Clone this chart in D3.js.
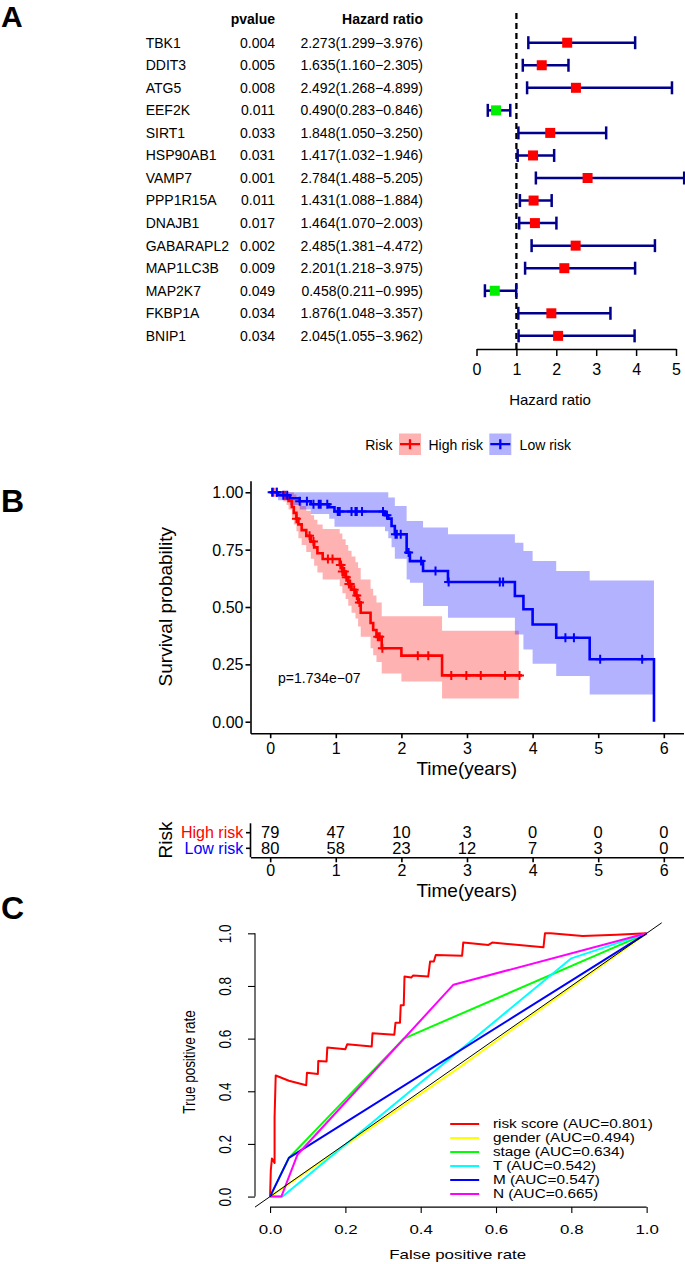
<!DOCTYPE html>
<html><head><meta charset="utf-8">
<script src="https://cdn.jsdelivr.net/npm/d3@7"></script>
<style>
body{margin:0;background:#fff}
svg{display:block}
text{font-family:"Liberation Sans",Arial,Helvetica,sans-serif;fill:#000}
</style>
</head><body>
<svg id="c" width="685" height="1264"></svg>
<script>
// ---------------- DATA ----------------
// Panel A: forest plot
const genes = ["TBK1","DDIT3","ATG5","EEF2K","SIRT1","HSP90AB1","VAMP7","PPP1R15A","DNAJB1","GABARAPL2","MAP1LC3B","MAP2K7","FKBP1A","BNIP1"];
const pvalues = ["0.004","0.005","0.008","0.011","0.033","0.031","0.001","0.011","0.017","0.002","0.009","0.049","0.034","0.034"];
const hr = [2.273,1.635,2.492,0.490,1.848,1.417,2.784,1.431,1.464,2.485,2.201,0.458,1.876,2.045];
const hrLow = [1.299,1.160,1.268,0.283,1.050,1.032,1.488,1.088,1.070,1.381,1.218,0.211,1.048,1.055];
const hrHigh = [3.976,2.305,4.899,0.846,3.250,1.946,5.205,1.884,2.003,4.472,3.975,0.995,3.357,3.962];
const hrTicks = [0,1,2,3,4,5];

// Panel B: Kaplan-Meier
const highTime  = [0,0.2,0.25,0.28,0.33,0.36,0.40,0.43,0.48,0.55,0.62,0.67,0.72,0.80,1.06,1.10,1.15,1.19,1.24,1.30,1.34,1.38,1.53,1.57,1.62,1.70,2.0,2.62];
const highSurv  = [1.0,0.987,0.975,0.962,0.936,0.91,0.885,0.86,0.835,0.81,0.785,0.76,0.734,0.709,0.683,0.655,0.63,0.60,0.575,0.55,0.52,0.475,0.43,0.40,0.37,0.32,0.288,0.202];
const highUpper = [1,1,1,1,1,0.99,0.975,0.96,0.94,0.92,0.90,0.88,0.86,0.84,0.82,0.795,0.77,0.745,0.72,0.695,0.67,0.62,0.58,0.55,0.52,0.46,0.46,0.397];
const highLower = [1,0.96,0.945,0.925,0.89,0.86,0.83,0.80,0.77,0.74,0.71,0.68,0.65,0.62,0.59,0.56,0.535,0.505,0.475,0.45,0.415,0.37,0.32,0.29,0.26,0.21,0.175,0.101];
const highEnd = 3.84, highBandEnd = 3.79;
const highCensor = [0.05,0.1,0.23,0.4,0.6,0.66,0.88,0.95,1.07,1.08,1.1,1.13,1.16,1.2,1.22,1.28,1.32,1.36,1.64,1.67,1.71,2.25,2.41,2.76,2.99,3.21,3.58,3.8];

const lowTime  = [0,0.12,0.30,0.45,0.62,0.90,0.98,1.75,1.80,1.85,1.90,2.08,2.13,2.33,2.71,3.73,3.86,4.0,4.36,4.87,5.85];
const lowSurv  = [1.0,0.987,0.974,0.961,0.948,0.935,0.916,0.90,0.885,0.853,0.817,0.737,0.70,0.657,0.609,0.548,0.49,0.424,0.366,0.272,0.0];
const lowUpper = [1,1,1,1,1,1,1,1,0.977,0.977,0.94,0.875,0.875,0.846,0.817,0.78,0.744,0.70,0.657,0.616];
const lowLower = [1,0.965,0.945,0.925,0.905,0.885,0.85,0.83,0.80,0.76,0.71,0.62,0.606,0.504,0.453,0.38,0.315,0.253,0.199,0.119];
const lowBandEnd = 5.85;
const lowCensor = [0.03,0.1,0.2,0.26,0.45,0.56,0.66,0.74,0.77,0.87,1.03,1.06,1.24,1.3,1.32,1.4,1.72,1.78,1.91,1.93,1.99,2.11,2.3,2.52,2.72,3.5,3.55,4.5,4.63,5.03,5.67];

const timeTicks = [0,1,2,3,4,5,6];
const survTicks = [0,0.25,0.5,0.75,1];
const pText = "p=1.734e\u221207";
const riskGroups = ["High risk","Low risk"];
const highAtRisk = [79,47,10,3,0,0,0];
const lowAtRisk  = [80,58,23,12,7,3,0];

// Panel C: ROC
const rocNames = ["risk score","gender","stage","T","M","N"];
const rocAuc = [0.801,0.494,0.634,0.542,0.547,0.665];
const rocRiskFpr = [0,0.002,0.005,0.012,0.012,0.015,0.05,0.096,0.098,0.127,0.128,0.15,0.152,0.20,0.205,0.27,0.272,0.33,0.333,0.345,0.347,0.355,0.357,0.375,0.38,0.42,0.425,0.435,0.44,0.51,0.513,0.58,0.59,0.726,0.73,0.745,0.83,0.92,1];
const rocRiskTpr = [0,0.10,0.145,0.128,0.30,0.46,0.44,0.423,0.47,0.466,0.515,0.513,0.566,0.56,0.579,0.57,0.62,0.615,0.66,0.66,0.727,0.727,0.836,0.832,0.84,0.836,0.893,0.893,0.918,0.915,0.965,0.956,0.965,0.947,1.0,1.0,0.99,0.995,1];
const rocGenderFpr = [0,0.5,1], rocGenderTpr = [0,0.488,1];
const rocStageFpr = [0,0.05,0.355,1], rocStageTpr = [0,0.147,0.6,1];
const rocTFpr = [0,0.033,0.80,1], rocTTpr = [0,0,0.905,1];
const rocMFpr = [0,0.05,1], rocMTpr = [0,0.147,1];
const rocNFpr = [0,0.03,0.073,0.487,1], rocNTpr = [0,0,0.16,0.805,1];
const rocTicks = [0,0.2,0.4,0.6,0.8,1];

// ---------------- DRAW ----------------
const svg = d3.select("#c");
const navy = "#00008B";

// panel letters
[["A",27,30],["B",512,32],["C",919,32]].forEach(([l,y,s]) =>
  svg.append("text").attr("x",1).attr("y",y).attr("font-size",s).attr("font-weight","bold").text(l));

// ======== Panel A ========
const rowY = d3.scalePoint().domain(genes).range([42.7, 42.7 + 13*22.55]);
const gA = svg.append("g").attr("font-size",14);
gA.append("text").attr("x",275).attr("y",19.3).attr("dy","0.35em").attr("text-anchor","end").attr("font-weight","bold").text("pvalue");
gA.append("text").attr("x",423).attr("y",19.3).attr("dy","0.35em").attr("text-anchor","end").attr("font-weight","bold").text("Hazard ratio");
genes.forEach((g,i) => {
  const y = rowY(g);
  gA.append("text").attr("x",145.7).attr("y",y).attr("dy","0.35em").text(g);
  gA.append("text").attr("x",275).attr("y",y).attr("dy","0.35em").attr("text-anchor","end").text(pvalues[i]);
  gA.append("text").attr("x",423).attr("y",y).attr("dy","0.35em").attr("text-anchor","end")
    .text(`${hr[i].toFixed(3)}(${hrLow[i].toFixed(3)}\u2212${hrHigh[i].toFixed(3)})`);
});

const xF = d3.scaleLinear([0,5],[476.5,676]);
const axF = svg.append("g").attr("transform","translate(0,349)")
  .call(d3.axisBottom(xF).tickValues(hrTicks).tickFormat(d3.format("d")).tickSize(7).tickSizeOuter(0));
axF.selectAll("path,line").attr("stroke","#000").attr("stroke-width",1.5);
axF.selectAll("text").attr("font-size",16).attr("font-family",null).attr("y",20).attr("dy","0.35em");
svg.append("text").attr("x",550).attr("y",400).attr("dy","0.35em").attr("text-anchor","middle").attr("font-size",15).text("Hazard ratio");

svg.append("line").attr("x1",xF(1)).attr("x2",xF(1)).attr("y1",13).attr("y2",349)
  .attr("stroke","#000").attr("stroke-width",2.3).attr("stroke-dasharray","6,4");

const gF = svg.append("g");
genes.forEach((g,i) => {
  const y = rowY(g);
  gF.append("line").attr("x1",xF(hrLow[i])).attr("x2",xF(hrHigh[i])).attr("y1",y).attr("y2",y)
    .attr("stroke",navy).attr("stroke-width",2.5);
  [hrLow[i],hrHigh[i]].forEach(v => gF.append("line").attr("x1",xF(v)).attr("x2",xF(v)).attr("y1",y-6.5).attr("y2",y+6.5)
    .attr("stroke",navy).attr("stroke-width",2.5));
  gF.append("rect").attr("x",xF(hr[i])-5).attr("y",y-5).attr("width",10).attr("height",10)
    .attr("fill", hr[i] > 1 ? "#FF0000" : "#00EE00");
});

// ======== Panel B ========
const xB = d3.scaleLinear([-0.3,6.3],[250.5,683.5]);
const yB = d3.scaleLinear([-0.05,1.05],[733.2,480.8]);
const red = "#FF0000", blue = "#0000FF";

function survAt(times, surv, t){ let v = surv[0]; for(let i=0;i<times.length;i++) if(times[i] <= t) v = surv[i]; return v; }

function drawKM(times, surv, up, lo, end, bandEnd, cens, col, fill){
  const bandPts = times.slice(0, up.length).map((t,i)=>[t, up[i], lo[i]]);
  bandPts.push([bandEnd, up[up.length-1], lo[lo.length-1]]);
  const area = d3.area().curve(d3.curveStepAfter).x(d=>xB(d[0])).y0(d=>yB(d[2])).y1(d=>yB(d[1]));
  svg.append("path").attr("d", area(bandPts)).attr("fill", fill).attr("stroke","none");
  return () => {
    const pts = times.map((t,i)=>[t, surv[i]]);
    if (end > times[times.length-1]) pts.push([end, surv[surv.length-1]]);
    const line = d3.line().curve(d3.curveStepAfter).x(d=>xB(d[0])).y(d=>yB(d[1]));
    svg.append("path").attr("d", line(pts)).attr("fill","none").attr("stroke",col).attr("stroke-width",2.6);
    const p = d3.path();
    cens.forEach(t => { const x = xB(t), y = yB(survAt(times, surv, t)); p.moveTo(x-4.5,y); p.lineTo(x+4.5,y); p.moveTo(x,y-4.5); p.lineTo(x,y+4.5); });
    svg.append("path").attr("d", p.toString()).attr("stroke",col).attr("stroke-width",2).attr("fill","none");
  };
}
const drawHighLine = drawKM(highTime, highSurv, highUpper, highLower, highEnd, highBandEnd, highCensor, red, "rgba(255,0,0,0.3)");
const drawLowLine = drawKM(lowTime, lowSurv, lowUpper, lowLower, lowTime[lowTime.length-1], lowBandEnd, lowCensor, blue, "rgba(0,0,255,0.3)");
drawHighLine();
drawLowLine();

const axBx = svg.append("g").attr("transform",`translate(0,${yB(-0.05)})`)
  .call(d3.axisBottom(xB).tickValues(timeTicks).tickFormat(d3.format("d")).tickSize(5).tickSizeOuter(0));
axBx.selectAll("path,line").attr("stroke","#000").attr("stroke-width",1.6);
axBx.selectAll("text").attr("font-size",16).attr("font-family",null).attr("y",15.1).attr("dy","0.35em");
const axBy = svg.append("g").attr("transform",`translate(${xB(-0.3)},0)`)
  .call(d3.axisLeft(yB).tickValues(survTicks).tickFormat(d3.format(".2f")).tickSize(5).tickSizeOuter(0));
axBy.selectAll("path,line").attr("stroke","#000").attr("stroke-width",1.6);
axBy.selectAll("text").attr("font-size",16).attr("font-family",null).attr("x",-7).attr("dy","0.35em");

svg.append("text").attr("x",466.7).attr("y",768.3).attr("dy","0.35em").attr("text-anchor","middle").attr("font-size",19).text("Time(years)");
svg.append("text").attr("transform","translate(165,606.7) rotate(-90)").attr("dy","0.35em").attr("text-anchor","middle").attr("font-size",19).text("Survival probability");
svg.append("text").attr("x",xB(0.12)).attr("y",677.7).attr("dy","0.35em").attr("font-size",14).text(pText);

// legend
const gL = svg.append("g").attr("font-size",14);
gL.append("text").attr("x",365.2).attr("y",445).attr("dy","0.35em").text("Risk");
[[399, red, "rgba(255,0,0,0.3)", riskGroups[0], 428.5],[489.3, blue, "rgba(0,0,255,0.3)", riskGroups[1], 519.6]].forEach(([x,c,f,lab,tx]) => {
  gL.append("rect").attr("x",x).attr("y",433.5).attr("width",22).attr("height",21.5).attr("fill",f);
  gL.append("path").attr("d",`M${x+1},444.2h20M${x+11},439.2v10`).attr("stroke",c).attr("stroke-width",2.3);
  gL.append("text").attr("x",tx).attr("y",445).attr("dy","0.35em").text(lab);
});

// risk table
const rowT = d3.scalePoint().domain(riskGroups).range([832.7, 848.3]);
const gT = svg.append("g");
gT.append("line").attr("x1",xB(-0.3)).attr("x2",xB(-0.3)).attr("y1",823.3).attr("y2",857.3).attr("stroke","#000").attr("stroke-width",1.6);
riskGroups.forEach((g,i) => {
  gT.append("line").attr("x1",xB(-0.3)-4.5).attr("x2",xB(-0.3)).attr("y1",rowT(g)).attr("y2",rowT(g)).attr("stroke","#000").attr("stroke-width",1.6);
  gT.append("text").attr("x",243.2).attr("y",rowT(g)).attr("dy","0.35em").attr("text-anchor","end").attr("font-size",16)
    .style("fill", i===0 ? red : blue).text(g);
  const vals = i===0 ? highAtRisk : lowAtRisk;
  vals.forEach((v,j) => gT.append("text").attr("x",xB(timeTicks[j])).attr("y",rowT(g)).attr("dy","0.35em").attr("text-anchor","middle").attr("font-size",16.5).text(v));
});
const axT = svg.append("g").attr("transform","translate(0,857.3)")
  .call(d3.axisBottom(xB).tickValues(timeTicks).tickFormat(d3.format("d")).tickSize(5).tickSizeOuter(0));
axT.selectAll("path,line").attr("stroke","#000").attr("stroke-width",1.6);
axT.selectAll("text").attr("font-size",16).attr("font-family",null).attr("y",12.7).attr("dy","0.35em");
svg.append("text").attr("x",466.7).attr("y",890).attr("dy","0.35em").attr("text-anchor","middle").attr("font-size",19).text("Time(years)");
svg.append("text").attr("transform","translate(165,840) rotate(-90)").attr("dy","0.35em").attr("text-anchor","middle").attr("font-size",19).text("Risk");

// ======== Panel C ========
const xC = d3.scaleLinear([-0.04,1.04],[255,661.7]);
const yC = d3.scaleLinear([-0.04,1.04],[1207.1,922.8]);
const SX = 1.25;
const rocSets = [[rocRiskFpr,rocRiskTpr],[rocGenderFpr,rocGenderTpr],[rocStageFpr,rocStageTpr],[rocTFpr,rocTTpr],[rocMFpr,rocMTpr],[rocNFpr,rocNTpr]];
const rocColors = ["#FF0000","#FFFF00","#00FF00","#00FFFF","#0000FF","#FF00FF"];
const lineC = d3.line().x(d=>xC(d[0])).y(d=>yC(d[1]));
rocSets.forEach(([f,t],k) => {
  svg.append("path").attr("d", lineC(f.map((v,i)=>[v,t[i]]))).attr("fill","none")
    .attr("stroke", rocColors[k]).attr("stroke-width",2).attr("stroke-linejoin","round");
});
svg.append("path").attr("d", lineC([[-0.04,-0.04],[1.04,1.04]])).attr("stroke","#000").attr("stroke-width",1).attr("fill","none");

// axes
const axCx = svg.append("g").attr("transform",`translate(0,${yC(-0.04)})`)
  .call(d3.axisBottom(xC).tickValues(rocTicks).tickFormat(d3.format(".1f")).tickSize(6));
axCx.select(".domain").remove();
axCx.append("line").attr("x1",xC(0)).attr("x2",xC(1)).attr("stroke","#000");
axCx.selectAll("line").attr("stroke","#000").attr("stroke-width",1.1);
axCx.selectAll("text").attr("font-size",13.5).attr("font-family",null).attr("y",0).attr("dy","0.35em")
  .attr("transform",`translate(0,22.2) scale(${SX},1)`);
const axCy = svg.append("g").attr("transform",`translate(${xC(-0.04)},0)`)
  .call(d3.axisLeft(yC).tickValues(rocTicks).tickFormat(d3.format(".1f")).tickSize(7));
axCy.select(".domain").remove();
axCy.append("line").attr("y1",yC(0)).attr("y2",yC(1)).attr("stroke","#000");
axCy.selectAll("line").attr("stroke","#000").attr("stroke-width",1.1);
axCy.selectAll("text").attr("font-size",13.5).attr("font-family",null).attr("x",0).attr("y",0).attr("dy","0.36em")
  .attr("text-anchor","middle").attr("transform",`translate(-30,0) scale(${SX},1) rotate(-90)`);

svg.append("text").attr("transform",`translate(457.7,1254) scale(${SX},1)`).attr("dy","0.35em").attr("text-anchor","middle").attr("font-size",13.5).text("False positive rate");
svg.append("text").attr("transform",`translate(189,1062) scale(${SX},1) rotate(-90)`).attr("dy","0.36em").attr("text-anchor","middle").attr("font-size",13.5).text("True positive rate");

// legend C
rocNames.forEach((n,k) => {
  const y = 1124 + k*14;
  svg.append("line").attr("x1",450.2).attr("x2",479.2).attr("y1",y).attr("y2",y).attr("stroke",rocColors[k]).attr("stroke-width",2);
  svg.append("text").attr("transform",`translate(492.9,${y}) scale(1.28,1)`).attr("dy","0.35em").attr("font-size",12)
    .text(`${n} (AUC=${rocAuc[k].toFixed(3)})`);
});
</script>
</body></html>
